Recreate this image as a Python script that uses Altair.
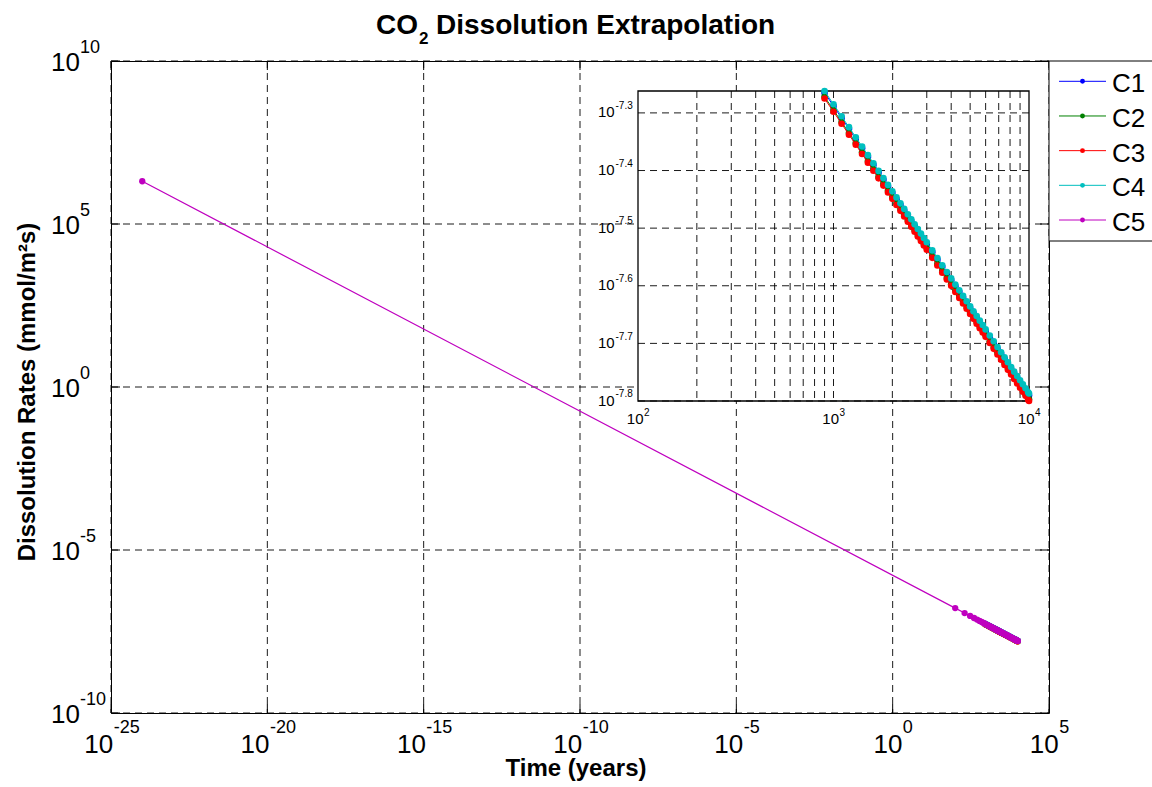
import altair as alt
import pandas as pd

FONT = "Liberation Sans"
SERIES = ["C1", "C2", "C3", "C4", "C5"]
COLORS = ["#0000FF", "#008000", "#FF0000", "#00BFBF", "#BF00BF"]

# time points (years) of the markers
T_LATE = [900, 1000, 1100, 1200, 1300, 1400, 1500, 1600, 1700, 1800, 1900, 2000,
          2100, 2200, 2300, 2400, 2500, 2600, 2700, 2800, 2900, 3000,
          3200, 3400, 3600, 3800, 4000, 4200, 4400, 4600, 4800, 5000,
          5200, 5400, 5600, 5800, 6000,
          6300, 6600, 6900, 7200, 7500, 7800, 8100, 8400, 8700, 9000, 9300, 9600, 9900, 10000]
T5 = [1e-24, 100, 200, 300, 400, 500, 600, 700, 800] + T_LATE

# dissolution rates (mmol/m^2 s)
R1 = [5.432e-08, 5.152e-08, 4.912e-08, 4.701e-08, 4.517e-08, 4.352e-08, 4.204e-08, 4.070e-08, 3.948e-08, 3.835e-08,
      3.733e-08, 3.638e-08, 3.550e-08, 3.468e-08, 3.392e-08, 3.320e-08, 3.252e-08, 3.189e-08, 3.129e-08, 3.073e-08,
      3.019e-08, 2.968e-08, 2.873e-08, 2.788e-08, 2.708e-08, 2.636e-08, 2.569e-08, 2.507e-08, 2.449e-08, 2.395e-08,
      2.345e-08, 2.297e-08, 2.252e-08, 2.210e-08, 2.170e-08, 2.132e-08, 2.095e-08, 2.045e-08, 1.998e-08, 1.953e-08,
      1.913e-08, 1.874e-08, 1.837e-08, 1.803e-08, 1.770e-08, 1.739e-08, 1.710e-08, 1.682e-08, 1.656e-08, 1.630e-08,
      1.622e-08]
R2 = [5.345e-08, 5.070e-08, 4.833e-08, 4.626e-08, 4.444e-08, 4.282e-08, 4.136e-08, 4.004e-08, 3.884e-08, 3.774e-08,
      3.673e-08, 3.580e-08, 3.493e-08, 3.413e-08, 3.337e-08, 3.267e-08, 3.201e-08, 3.138e-08, 3.079e-08, 3.024e-08,
      2.971e-08, 2.921e-08, 2.828e-08, 2.743e-08, 2.665e-08, 2.594e-08, 2.528e-08, 2.467e-08, 2.410e-08, 2.357e-08,
      2.307e-08, 2.260e-08, 2.216e-08, 2.174e-08, 2.135e-08, 2.098e-08, 2.062e-08, 2.012e-08, 1.966e-08, 1.923e-08,
      1.882e-08, 1.844e-08, 1.808e-08, 1.774e-08, 1.742e-08, 1.711e-08, 1.683e-08, 1.655e-08, 1.629e-08, 1.604e-08,
      1.596e-08]
R3 = [5.308e-08, 5.035e-08, 4.800e-08, 4.595e-08, 4.414e-08, 4.252e-08, 4.108e-08, 3.977e-08, 3.858e-08, 3.748e-08,
      3.648e-08, 3.555e-08, 3.469e-08, 3.389e-08, 3.314e-08, 3.244e-08, 3.179e-08, 3.117e-08, 3.058e-08, 3.003e-08,
      2.950e-08, 2.901e-08, 2.808e-08, 2.724e-08, 2.647e-08, 2.576e-08, 2.511e-08, 2.450e-08, 2.393e-08, 2.340e-08,
      2.291e-08, 2.244e-08, 2.201e-08, 2.159e-08, 2.120e-08, 2.083e-08, 2.048e-08, 1.999e-08, 1.952e-08, 1.909e-08,
      1.869e-08, 1.831e-08, 1.795e-08, 1.762e-08, 1.730e-08, 1.700e-08, 1.671e-08, 1.644e-08, 1.618e-08, 1.593e-08,
      1.585e-08]
R4 = [5.470e-08, 5.188e-08, 4.946e-08, 4.734e-08, 4.548e-08, 4.382e-08, 4.233e-08, 4.098e-08, 3.975e-08, 3.862e-08,
      3.759e-08, 3.663e-08, 3.575e-08, 3.492e-08, 3.415e-08, 3.343e-08, 3.275e-08, 3.211e-08, 3.151e-08, 3.094e-08,
      3.040e-08, 2.989e-08, 2.893e-08, 2.807e-08, 2.727e-08, 2.654e-08, 2.587e-08, 2.524e-08, 2.466e-08, 2.412e-08,
      2.361e-08, 2.313e-08, 2.268e-08, 2.225e-08, 2.185e-08, 2.147e-08, 2.110e-08, 2.059e-08, 2.012e-08, 1.967e-08,
      1.926e-08, 1.887e-08, 1.850e-08, 1.815e-08, 1.782e-08, 1.751e-08, 1.722e-08, 1.694e-08, 1.667e-08, 1.641e-08,
      1.633e-08]
R5 = [2.0455e+06,
      1.6489e-07, 1.1631e-07, 9.482e-08, 8.204e-08, 7.332e-08, 6.688e-08, 6.189e-08, 5.786e-08,
      5.453e-08, 5.171e-08, 4.929e-08, 4.718e-08, 4.531e-08, 4.365e-08, 4.216e-08, 4.081e-08, 3.959e-08, 3.846e-08,
      3.743e-08, 3.648e-08, 3.559e-08, 3.477e-08, 3.400e-08, 3.328e-08, 3.260e-08, 3.196e-08, 3.136e-08, 3.079e-08,
      3.025e-08, 2.974e-08, 2.879e-08, 2.792e-08, 2.713e-08, 2.640e-08, 2.573e-08, 2.510e-08, 2.452e-08, 2.398e-08,
      2.347e-08, 2.299e-08, 2.254e-08, 2.212e-08, 2.172e-08, 2.134e-08, 2.098e-08, 2.047e-08, 1.999e-08, 1.955e-08,
      1.914e-08, 1.875e-08, 1.838e-08, 1.803e-08, 1.771e-08, 1.740e-08, 1.710e-08, 1.682e-08, 1.656e-08, 1.630e-08,
      1.622e-08]

MAIN_X_EXP = [-25, -20, -15, -10, -5, 0, 5]
MAIN_Y_EXP = [-10, -5, 0, 5, 10]
INSET_X_EXP = [2, 3, 4]
INSET_Y_EXP = ["-7.3", "-7.4", "-7.5", "-7.6", "-7.7", "-7.8"]
INSET_GRID_X = [200, 300, 400, 500, 600, 700, 800, 900, 1000,
                2000, 3000, 4000, 5000, 6000, 7000, 8000, 9000]

W, H = 938, 652
DASH = [7, 5]


def sdf(name, times, rates):
    return pd.DataFrame({"t": times, "rate": rates, "series": name})


data = {"C1": (T_LATE, R1), "C2": (T_LATE, R2), "C3": (T_LATE, R3), "C4": (T_LATE, R4), "C5": (T5, R5)}
one = pd.DataFrame({"k": [0]})

# ---------------- main axes ----------------
xs = alt.Scale(type="log", domain=[1e-25, 1e5], nice=False)
ys = alt.Scale(type="log", domain=[1e-10, 1e10], nice=False)
X = lambda f: alt.X(f, type="quantitative", scale=xs, axis=None)
Y = lambda f: alt.Y(f, type="quantitative", scale=ys, axis=None)

gx = pd.DataFrame({"v": [10.0 ** e for e in MAIN_X_EXP], "e": [str(e) for e in MAIN_X_EXP]})
gy = pd.DataFrame({"v": [10.0 ** e for e in MAIN_Y_EXP], "e": [str(e) for e in MAIN_Y_EXP]})

main_layers = [
    alt.Chart(gx).mark_rule(color="black", strokeWidth=0.9, strokeDash=DASH).encode(x=X("v"), y=alt.value(0), y2=alt.value(H)),
    alt.Chart(gy).mark_rule(color="black", strokeWidth=0.9, strokeDash=DASH).encode(y=Y("v"), x=alt.value(0), x2=alt.value(W)),
]
for s, c in zip(SERIES, COLORS):
    d = sdf(s, *data[s])
    main_layers.append(alt.Chart(d).mark_line(color=c, strokeWidth=1.2).encode(x=X("t"), y=Y("rate")))
    main_layers.append(alt.Chart(d).mark_circle(color=c, size=40, opacity=1).encode(x=X("t"), y=Y("rate")))
# ticks (inward, all four sides)
main_layers += [
    alt.Chart(gx).mark_rule(color="black", strokeWidth=1).encode(x=X("v"), y=alt.value(H), y2=alt.value(H - 9)),
    alt.Chart(gx).mark_rule(color="black", strokeWidth=1).encode(x=X("v"), y=alt.value(0), y2=alt.value(9)),
    alt.Chart(gy).mark_rule(color="black", strokeWidth=1).encode(y=Y("v"), x=alt.value(0), x2=alt.value(9)),
    alt.Chart(gy).mark_rule(color="black", strokeWidth=1).encode(y=Y("v"), x=alt.value(W), x2=alt.value(W - 9)),
]
# x tick labels (10 + superscript exponent), centred as a group
for n, shift in [(3, 2.2), (2, 6.9), (1, 9.7)]:
    g = gx[gx["e"].str.len() == n]
    main_layers.append(alt.Chart(g).mark_text(text="10", font=FONT, fontSize=26, align="right", baseline="alphabetic", dx=shift)
                       .encode(x=X("v"), y=alt.value(H + 40)))
    main_layers.append(alt.Chart(g).mark_text(font=FONT, fontSize=18, align="left", baseline="alphabetic", dx=shift + 0.5)
                       .encode(x=X("v"), y=alt.value(H + 20), text="e:N"))
# y tick labels
main_layers.append(alt.Chart(gy).mark_text(text="10", font=FONT, fontSize=26, align="left", baseline="alphabetic", dy=10)
                   .encode(y=Y("v"), x=alt.value(-60)))
main_layers.append(alt.Chart(gy).mark_text(font=FONT, fontSize=18, align="left", baseline="alphabetic", dy=-8)
                   .encode(y=Y("v"), x=alt.value(-31), text="e:N"))
# axis titles and title
main_layers += [
    alt.Chart(one).mark_text(text="Time (years)", font=FONT, fontSize=24, fontWeight="bold", align="center", baseline="alphabetic")
    .encode(x=alt.value(465), y=alt.value(H + 63)),
    alt.Chart(one).mark_text(text="Dissolution Rates (mmol/m²s)", font=FONT, fontSize=24, fontWeight="bold", angle=270,
                             align="center", baseline="alphabetic").encode(x=alt.value(-76), y=alt.value(331)),
    alt.Chart(one).mark_text(text="CO", font=FONT, fontSize=28, fontWeight="bold", align="right", baseline="alphabetic")
    .encode(x=alt.value(307), y=alt.value(-27.3)),
    alt.Chart(one).mark_text(text="2", font=FONT, fontSize=17, fontWeight="bold", align="left", baseline="alphabetic")
    .encode(x=alt.value(308), y=alt.value(-16.6)),
    alt.Chart(one).mark_text(text="Dissolution Extrapolation", font=FONT, fontSize=28, fontWeight="bold", align="left", baseline="alphabetic")
    .encode(x=alt.value(325), y=alt.value(-27.3)),
]
main = alt.layer(*main_layers)

# ---------------- inset ----------------
IX0, IX1, IY0, IY1 = 527, 918, 30, 340
ixs = alt.Scale(type="log", domain=[100, 10000], range=[IX0, IX1], nice=False)
iys = alt.Scale(type="log", domain=[10 ** -7.8, 10 ** -7.262], range=[IY1, IY0], nice=False)
IXe = lambda f: alt.X(f, type="quantitative", scale=ixs, axis=None)
IYe = lambda f: alt.Y(f, type="quantitative", scale=iys, axis=None)

igx = pd.DataFrame({"v": INSET_GRID_X})
ilx = pd.DataFrame({"v": [10.0 ** e for e in INSET_X_EXP], "e": [str(e) for e in INSET_X_EXP]})
ily = pd.DataFrame({"v": [10.0 ** float(e) for e in INSET_Y_EXP], "e": INSET_Y_EXP})

inset_layers = [
    alt.Chart(one).mark_rect(fill="white", stroke="black", strokeWidth=1.3)
    .encode(x=alt.value(IX0), x2=alt.value(IX1), y=alt.value(IY0), y2=alt.value(IY1)),
    alt.Chart(igx).mark_rule(color="black", strokeWidth=0.9, strokeDash=DASH).encode(x=IXe("v"), y=alt.value(IY0), y2=alt.value(IY1)),
    alt.Chart(ily).mark_rule(color="black", strokeWidth=0.9, strokeDash=DASH).encode(y=IYe("v"), x=alt.value(IX0), x2=alt.value(IX1)),
]
for s, c in zip(SERIES[:4], COLORS[:4]):
    d = sdf(s, *data[s])
    inset_layers.append(alt.Chart(d).mark_line(color=c, strokeWidth=1).encode(x=IXe("t"), y=IYe("rate")))
    inset_layers.append(alt.Chart(d).mark_circle(color=c, size=44, opacity=1).encode(x=IXe("t"), y=IYe("rate")))
inset_layers += [
    alt.Chart(ilx).mark_text(text="10", font=FONT, fontSize=15, align="right", baseline="alphabetic", dx=5.5)
    .encode(x=IXe("v"), y=alt.value(IY1 + 23)),
    alt.Chart(ilx).mark_text(font=FONT, fontSize=10, align="left", baseline="alphabetic", dx=6)
    .encode(x=IXe("v"), y=alt.value(IY1 + 15), text="e:N"),
    alt.Chart(ily).mark_text(text="10", font=FONT, fontSize=15, align="left", baseline="alphabetic", dy=4.6)
    .encode(y=IYe("v"), x=alt.value(487)),
    alt.Chart(ily).mark_text(font=FONT, fontSize=10, align="left", baseline="alphabetic", dy=-3.7)
    .encode(y=IYe("v"), x=alt.value(504.5), text="e:N"),
]
inset = alt.layer(*inset_layers)

# ---------------- legend ----------------
leg = pd.DataFrame({"series": SERIES})
LY = alt.Y("series:N", scale=alt.Scale(type="point", domain=SERIES, range=[20.3, 159], padding=0), axis=None)
LC = alt.Color("series:N", scale=alt.Scale(domain=SERIES, range=COLORS), legend=None)
legend = alt.layer(
    alt.Chart(one).mark_rect(fill="white", stroke="black", strokeWidth=1)
    .encode(x=alt.value(W), x2=alt.value(W + 130), y=alt.value(0), y2=alt.value(180)),
    alt.Chart(leg).mark_rule(strokeWidth=1).encode(x=alt.value(948), x2=alt.value(995), y=LY, color=LC),
    alt.Chart(leg).mark_circle(size=24, opacity=1).encode(x=alt.value(971.5), y=LY, color=LC),
    alt.Chart(leg).mark_text(font=FONT, fontSize=26, align="left", baseline="alphabetic", dy=11, color="black")
    .encode(x=alt.value(1001), y=LY, text="series:N"),
)

chart = (
    alt.layer(main, inset, legend)
    .resolve_scale(x="independent", y="independent", color="independent")
    .properties(width=W, height=H, autosize=alt.AutoSizeParams(type="none"),
                padding={"left": 111, "top": 61, "right": 103, "bottom": 74}, background="white")
    .configure_view(stroke="black", strokeWidth=1)
)
chart.save("out.html", embed_options={"renderer": "svg", "actions": False})
